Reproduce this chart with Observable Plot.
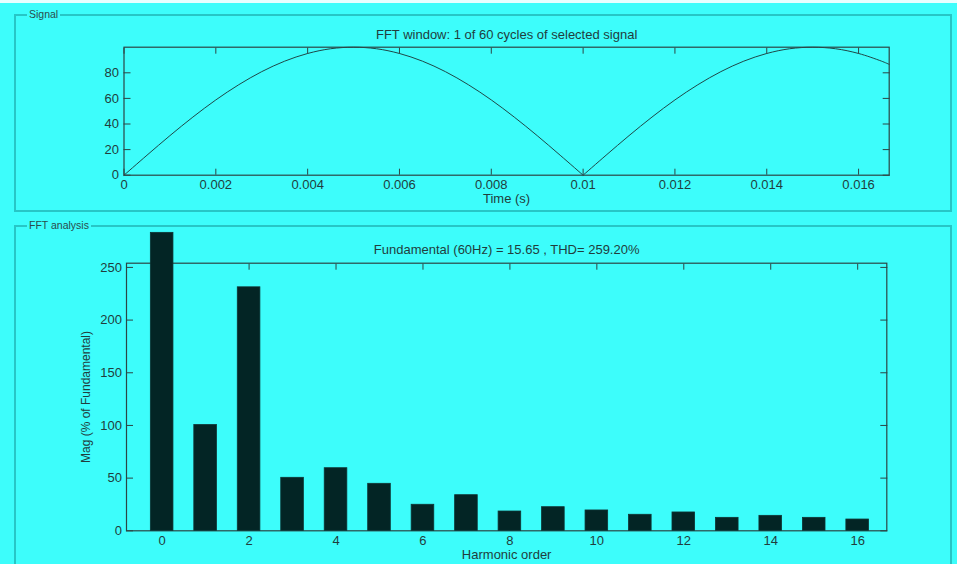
<!DOCTYPE html>
<html><head><meta charset="utf-8">
<script src="https://cdn.jsdelivr.net/npm/d3@7"></script>
<script src="https://cdn.jsdelivr.net/npm/@observablehq/plot@0.6"></script>
<style>
html,body{margin:0;padding:0;background:#3dfdfb;}
#wrap{position:relative;width:957px;height:564px;overflow:hidden;background:#3dfdfb;font-family:"Liberation Sans",Arial,sans-serif;}
.box{position:absolute;border:2px solid #27c6c6;box-sizing:border-box;}
.lbl{position:absolute;font-size:10.5px;color:#2a4c4c;background:#3dfdfb;padding:0 2px;line-height:12px;}
.plot{position:absolute;left:0;}
.plot svg{overflow:visible;}
</style></head>
<body><div id="wrap">
 <div style="position:absolute;left:0;top:0;width:957px;height:3px;background:#e8ffff"></div>
 <div class="box" style="left:14px;top:14px;width:938px;height:198px"></div>
 <div class="lbl" style="left:27px;top:8px">Signal</div>
 <div class="box" style="left:14px;top:225px;width:938px;height:400px"></div>
 <div class="lbl" style="left:27px;top:219px">FFT analysis</div>
 <div id="topplot" class="plot" style="top:0"></div>
 <div id="botplot" class="plot" style="top:215px"></div>
</div>
<script>
// ---- Signal panel data ----
const signalTimeA  = [0,0.0005,0.001,0.0015,0.002,0.0025,0.003,0.0035,0.004,0.0045,0.005,0.0055,0.006,0.0065,0.007,0.0075,0.008,0.0085,0.009,0.0095,0.01];
const signalValueA = [0,15.6,30.9,45.4,58.8,70.7,80.9,89.1,95.1,98.8,100,98.8,95.1,89.1,80.9,70.7,58.8,45.4,30.9,15.6,0];
const signalTimeB  = [0.01,0.0105,0.011,0.0115,0.012,0.0125,0.013,0.0135,0.014,0.0145,0.015,0.0155,0.016,0.0165,0.016667];
const signalValueB = [0,15.6,30.9,45.4,58.8,70.7,80.9,89.1,95.1,98.8,100,98.8,95.1,89.1,86.6];
const timeTicks = [0,0.002,0.004,0.006,0.008,0.01,0.012,0.014,0.016];
const signalTicks = [0,20,40,60,80];
const signalTitle = "FFT window: 1 of 60 cycles of selected signal";
const signalXLabel = "Time (s)";

// ---- FFT panel data ----
const harmonicOrder = [0,1,2,3,4,5,6,7,8,9,10,11,12,13,14,15,16];
const harmonicMag   = [282.8,100.4,231.1,50.3,59.4,44.6,24.7,33.8,18.3,22.4,19.3,15.2,17.4,12.3,14.2,12.3,10.7];
const harmonicTicks = [0,2,4,6,8,10,12,14,16];
const magTicks = [0,50,100,150,200,250];
const fftTitle = "Fundamental (60Hz) = 15.65 , THD= 259.20%";
const fftXLabel = "Harmonic order";
const fftYLabel = "Mag (% of Fundamental)";

const FONT = '"Liberation Sans", Arial, sans-serif';
const INK = "#213d3d";
const AX = "#2c4545";

const segA = signalTimeA.map((t,i)=>({t, v: signalValueA[i]}));
const segB = signalTimeB.map((t,i)=>({t, v: signalValueB[i]}));
const bars = harmonicOrder.map((h,i)=>({h, m: harmonicMag[i]}));

const style = {background:"transparent", color: INK, fontSize:"13px", fontFamily: FONT};

const topChart = Plot.plot({
  width: 957, height: 215,
  marginLeft: 123.5, marginRight: 68.3, marginTop: 46.7, marginBottom: 40.3,
  style,
  x: {domain: [0, 0.016667]},
  y: {domain: [0, 100]},
  marks: [
    Plot.line(segA, {x:"t", y:"v", curve:"catmull-rom", stroke:"#1e4848", strokeWidth:1}),
    Plot.line(segB, {x:"t", y:"v", curve:"catmull-rom", stroke:"#1e4848", strokeWidth:1}),
    Plot.frame({stroke: AX, strokeWidth: 1.2}),
    Plot.axisX(timeTicks, {anchor:"bottom", tickSize:0, tickPadding:5, tickFormat: d=>String(d), label:null}),
    Plot.axisX(timeTicks, {anchor:"bottom", tickSize:-6, tickFormat: ()=>"", label:null, stroke: AX}),
    Plot.axisX(timeTicks, {anchor:"top", tickSize:-6, tickFormat: ()=>"", label:null, stroke: AX}),
    Plot.axisY(signalTicks, {anchor:"left", tickSize:0, tickPadding:5, label:null}),
    Plot.axisY(signalTicks, {anchor:"left", tickSize:-7, tickFormat: ()=>"", label:null, stroke: AX}),
    Plot.axisY(signalTicks, {anchor:"right", tickSize:-7, tickFormat: ()=>"", label:null, stroke: AX}),
    Plot.text([signalTitle], {frameAnchor:"top", dy:-12.5, lineAnchor:"middle", text: d=>d, fontSize: 13}),
    Plot.text([signalXLabel], {frameAnchor:"bottom", dy:23.5, lineAnchor:"middle", text: d=>d, fontSize: 13})
  ]
});
document.getElementById("topplot").append(topChart);

const botChart = Plot.plot({
  width: 957, height: 349,
  marginLeft: 126, marginRight: 70.7, marginTop: 47.7, marginBottom: 33.7,
  style,
  x: {domain: [-0.82, 16.67]},
  y: {domain: [0, 254]},
  marks: [
    Plot.frame({stroke: AX, strokeWidth: 1.2}),
    Plot.axisX(harmonicTicks, {anchor:"bottom", tickSize:0, tickPadding:5, label:null}),
    Plot.axisX(harmonicTicks, {anchor:"bottom", tickSize:-6, tickFormat: ()=>"", label:null, stroke: AX}),
    Plot.axisX(harmonicTicks, {anchor:"top", tickSize:-6, tickFormat: ()=>"", label:null, stroke: AX}),
    Plot.axisY(magTicks, {anchor:"left", tickSize:0, tickPadding:4.5, label:null}),
    Plot.axisY(magTicks, {anchor:"left", tickSize:-7, tickFormat: ()=>"", label:null, stroke: AX}),
    Plot.axisY(magTicks, {anchor:"right", tickSize:-7, tickFormat: ()=>"", label:null, stroke: AX}),
    Plot.rectY(bars, {x1: d=>d.h-0.26, x2: d=>d.h+0.26, y1: 0, y2: "m", fill:"#032525", stroke:"#0e3434", strokeWidth:0.8}),
    Plot.text([fftTitle], {frameAnchor:"top", dy:-13, lineAnchor:"middle", text: d=>d, fontSize: 13}),
    Plot.text([fftXLabel], {frameAnchor:"bottom", dy:24, lineAnchor:"middle", text: d=>d, fontSize: 13}),
    Plot.text([fftYLabel], {frameAnchor:"left", dx:-40, rotate:-90, textAnchor:"middle", lineAnchor:"middle", text: d=>d, fontSize: 12})
  ]
});
document.getElementById("botplot").append(botChart);
</script>
</body></html>
